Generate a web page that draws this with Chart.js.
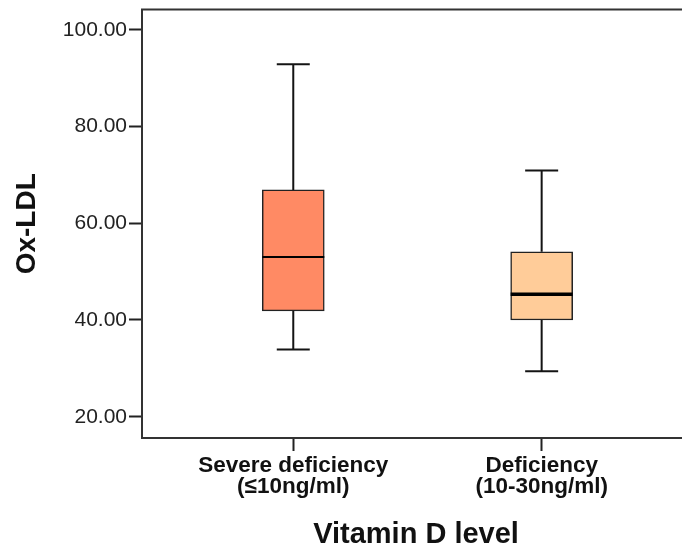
<!DOCTYPE html>
<html>
<head>
<meta charset="utf-8">
<script src="https://cdn.jsdelivr.net/npm/chart.js@4"></script>
<style>
  html, body { margin: 0; padding: 0; background: #fff; }
</style>
</head>
<body>
<canvas id="chart" width="682" height="549"></canvas>
<script>
// ── data ─────────────────────────────────────────────────────────────────────
const groups   = [['Severe deficiency', '(≤10ng/ml)'], ['Deficiency', '(10-30ng/ml)']];
const groupPos = [1, 2];
const mins     = [33.9, 29.4];
const q1s      = [41.9, 40.0];
const medians  = [53.0, 45.3];
const q3s      = [66.9, 54.1];
const maxs     = [92.9, 70.9];
const yTicks   = [20, 40, 60, 80, 100];

const fills   = ['#FF8A64', '#FFCC99'];
const medianW = [2, 3.5];
const FONT    = "'Liberation Sans', Arial, sans-serif";

// whiskers, caps, medians + top frame line
const boxExtras = {
  id: 'boxExtras',
  afterDatasetsDraw(chart) {
    const { ctx, chartArea, scales: { x, y } } = chart;
    ctx.save();
    ctx.strokeStyle = '#141414';
    ctx.lineCap = 'butt';
    groupPos.forEach((g, i) => {
      const cx = x.getPixelForValue(g);
      const cap = 16.5, half = 31;
      const yMax = y.getPixelForValue(maxs[i]), yMin = y.getPixelForValue(mins[i]);
      const yQ1 = y.getPixelForValue(q1s[i]), yQ3 = y.getPixelForValue(q3s[i]);
      ctx.lineWidth = 2;
      ctx.beginPath();
      ctx.moveTo(cx, yQ3); ctx.lineTo(cx, yMax);
      ctx.moveTo(cx - cap, yMax); ctx.lineTo(cx + cap, yMax);
      ctx.moveTo(cx, yQ1); ctx.lineTo(cx, yMin);
      ctx.moveTo(cx - cap, yMin); ctx.lineTo(cx + cap, yMin);
      ctx.stroke();
      const yMed = y.getPixelForValue(medians[i]);
      ctx.lineWidth = medianW[i];
      ctx.strokeStyle = '#000';
      ctx.beginPath();
      ctx.moveTo(cx - half, yMed); ctx.lineTo(cx + half, yMed);
      ctx.stroke();
      ctx.strokeStyle = '#141414';
    });
    ctx.lineWidth = 2;
    ctx.strokeStyle = '#333';
    ctx.beginPath();
    ctx.moveTo(chartArea.left - 1, chartArea.top);
    ctx.lineTo(chartArea.right, chartArea.top);
    ctx.stroke();
    ctx.restore();
  }
};

new Chart(document.getElementById('chart'), {
  type: 'bar',
  data: {
    datasets: [{
      data: groupPos.map((g, i) => ({ x: g, y: [q1s[i], q3s[i]] })),
      backgroundColor: fills,
      borderColor: '#222',
      borderWidth: 1.5,
      borderSkipped: false,
      barThickness: 62,
    }],
  },
  options: {
    responsive: false,
    animation: false,
    devicePixelRatio: 1,
    layout: { padding: { top: 9.5, right: 0, bottom: 0, left: 0 } },
    plugins: { legend: { display: false }, tooltip: { enabled: false } },
    scales: {
      x: {
        type: 'linear',
        min: 0.391,
        max: 2.565,
        offset: false,
        afterBuildTicks: s => { s.ticks = groupPos.map(v => ({ value: v })); },
        ticks: {
          callback: (v, i) => groups[i],
          font: { family: FONT, size: 22.5, weight: 'bold', lineHeight: 0.9 },
          color: '#111',
          padding: 5,
          maxRotation: 0,
          autoSkip: false,
        },
        grid: { offset: false, drawOnChartArea: false, drawTicks: true, tickLength: 13, tickWidth: 2, tickColor: '#222' },
        border: { display: true, color: '#333', width: 2 },
        title: {
          display: true,
          text: '\u00a0Vitamin D level',
          color: '#111',
          font: { family: FONT, size: 29, weight: 'bold', lineHeight: 1 },
          padding: { top: 0, bottom: 0 },
        },
        afterFit: s => { s.height = 111; s.paddingLeft = 0; s.paddingRight = 0; },
      },
      y: {
        min: 15.6,
        max: 104.2,
        afterBuildTicks: s => { s.ticks = yTicks.map(v => ({ value: v })); },
        ticks: {
          callback: v => v.toFixed(2),
          font: { family: FONT, size: 21 },
          color: '#222',
          padding: 2,
        },
        grid: { drawOnChartArea: false, drawTicks: true, tickLength: 13, tickWidth: 2, tickColor: '#222' },
        border: { display: true, color: '#333', width: 2 },
        title: {
          display: true,
          text: 'Ox-LDL',
          color: '#111',
          font: { family: FONT, size: 28, weight: 'bold', lineHeight: 1 },
          padding: { top: 13.5, bottom: 0 },
        },
        afterFit: s => { s.width = 142; s.paddingTop = 0; s.paddingBottom = 0; },
      },
    },
  },
  plugins: [boxExtras],
});
</script>
</body>
</html>
